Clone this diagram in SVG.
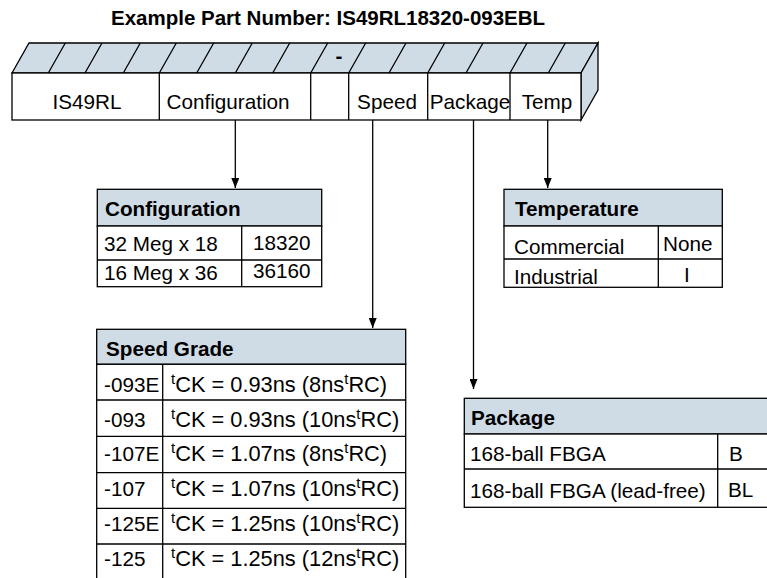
<svg xmlns="http://www.w3.org/2000/svg" width="767" height="578" viewBox="0 0 767 578">
<defs>
<marker id="ah" markerWidth="10" markerHeight="8" refX="10" refY="4" orient="auto" markerUnits="userSpaceOnUse" viewBox="0 0 10 8">
<path d="M0,0 L10,4 L0,8 Z" fill="#000"/>
</marker>
</defs>
<style>
text{font-family:"Liberation Sans",Arial,sans-serif;font-size:20.7px;fill:#000}
.b{font-weight:bold}
.m{text-anchor:middle}
.hd{fill:#cfdbe5;stroke:#000;stroke-width:1.3}
.cell{fill:#fff;stroke:#000;stroke-width:1.3}
.ln{stroke:#000;stroke-width:1.3;fill:none}
.c2{font-size:21.8px}
.sup{font-size:15px}
</style>
<rect width="767" height="578" fill="#fff"/>
<text class="b" x="111" y="25" style="font-size:20.5px">Example Part Number: IS49RL18320-093EBL</text>

<g id="partbar">
<polygon class="hd" points="12,73 29,43 598,43 581,73"/>
<polygon class="hd" points="581,73 598,43 598,90 581,120"/>
<rect class="cell" x="12" y="73" width="569" height="47"/>
<path class="ln" d="M48.3,73 L65.3,43 M85,73 L102,43 M123.3,73 L140.3,43 M159.3,73 L176.3,43 M196.7,73 L213.7,43 M235.3,73 L252.3,43 M272.7,73 L289.7,43 M310.7,73 L327.7,43 M348.7,73 L365.7,43 M389,73 L406,43 M427.7,73 L444.7,43 M466,73 L483,43 M510,73 L527,43 M548.3,73 L565.3,43"/>
<path class="ln" d="M159.3,73 V120 M310.7,73 V120 M348.7,73 V120 M427.7,73 V120 M510,73 V120"/>
<text class="b m" x="339" y="63">-</text>
<text class="m" x="87" y="109">IS49RL</text>
<text class="m" x="228" y="109">Configuration</text>
<text class="m" x="387" y="109">Speed</text>
<text class="m" x="470" y="109">Package</text>
<text class="m" x="547" y="109">Temp</text>
</g>

<g id="connectors">
<line class="ln" x1="235.3" y1="120" x2="235.3" y2="188" marker-end="url(#ah)"/>
<line class="ln" x1="372.7" y1="120" x2="372.7" y2="328" marker-end="url(#ah)"/>
<line class="ln" x1="473.5" y1="120" x2="473.5" y2="389" marker-end="url(#ah)"/>
<line class="ln" x1="547.7" y1="120" x2="547.7" y2="188" marker-end="url(#ah)"/>
</g>

<g id="config">
<rect class="hd" x="97.3" y="189.3" width="224.4" height="36.7"/>
<rect class="cell" x="97.3" y="226" width="224.4" height="60.7"/>
<path class="ln" d="M97.3,260 H321.7 M241.7,226 V286.7"/>
<text class="b" x="105" y="216">Configuration</text>
<text x="104" y="251">32 Meg x 18</text>
<text x="253" y="250">18320</text>
<text x="104" y="280">16 Meg x 36</text>
<text x="253" y="278">36160</text>
</g>

<g id="temperature">
<rect class="hd" x="504" y="189.3" width="218.3" height="36.7"/>
<rect class="cell" x="504" y="226" width="218.3" height="61.3"/>
<path class="ln" d="M504,259 H722.3 M658.3,226 V287.3"/>
<text class="b" x="515" y="216">Temperature</text>
<text x="514" y="254">Commercial</text>
<text x="663" y="251">None</text>
<text x="514" y="284">Industrial</text>
<text x="684" y="282">I</text>
</g>

<g id="speed">
<rect class="hd" x="96.7" y="329.3" width="309" height="35"/>
<rect class="cell" x="96.7" y="364.3" width="309" height="214.7"/>
<path class="ln" d="M96.7,400 H405.7 M96.7,436.3 H405.7 M96.7,472.7 H405.7 M96.7,508.3 H405.7 M96.7,544 H405.7 M162.7,364.3 V579"/>
<text class="b" x="106" y="356">Speed Grade</text>
<text x="104" y="392">-093E</text>
<text x="104" y="427">-093</text>
<text x="104" y="461">-107E</text>
<text x="104" y="496">-107</text>
<text x="104" y="531">-125E</text>
<text x="104" y="566">-125</text>
<text class="c2" x="171" y="392"><tspan class="sup" dy="-8">t</tspan><tspan dy="8">CK = 0.93ns (8ns</tspan><tspan class="sup" dy="-8">t</tspan><tspan dy="8">RC)</tspan></text>
<text class="c2" x="171" y="427"><tspan class="sup" dy="-8">t</tspan><tspan dy="8">CK = 0.93ns (10ns</tspan><tspan class="sup" dy="-8">t</tspan><tspan dy="8">RC)</tspan></text>
<text class="c2" x="171" y="461"><tspan class="sup" dy="-8">t</tspan><tspan dy="8">CK = 1.07ns (8ns</tspan><tspan class="sup" dy="-8">t</tspan><tspan dy="8">RC)</tspan></text>
<text class="c2" x="171" y="496"><tspan class="sup" dy="-8">t</tspan><tspan dy="8">CK = 1.07ns (10ns</tspan><tspan class="sup" dy="-8">t</tspan><tspan dy="8">RC)</tspan></text>
<text class="c2" x="171" y="531"><tspan class="sup" dy="-8">t</tspan><tspan dy="8">CK = 1.25ns (10ns</tspan><tspan class="sup" dy="-8">t</tspan><tspan dy="8">RC)</tspan></text>
<text class="c2" x="171" y="566"><tspan class="sup" dy="-8">t</tspan><tspan dy="8">CK = 1.25ns (12ns</tspan><tspan class="sup" dy="-8">t</tspan><tspan dy="8">RC)</tspan></text>
</g>

<g id="package">
<rect class="hd" x="464.3" y="398.3" width="304" height="35.7"/>
<rect class="cell" x="464.3" y="434" width="304" height="73.3"/>
<path class="ln" d="M464.3,469 H768.3 M717.7,434 V507.3"/>
<text class="b" x="471" y="425">Package</text>
<text x="470" y="461">168-ball FBGA</text>
<text x="729" y="461">B</text>
<text x="470" y="498">168-ball FBGA (lead-free)</text>
<text x="728" y="497">BL</text>
</g>
</svg>
